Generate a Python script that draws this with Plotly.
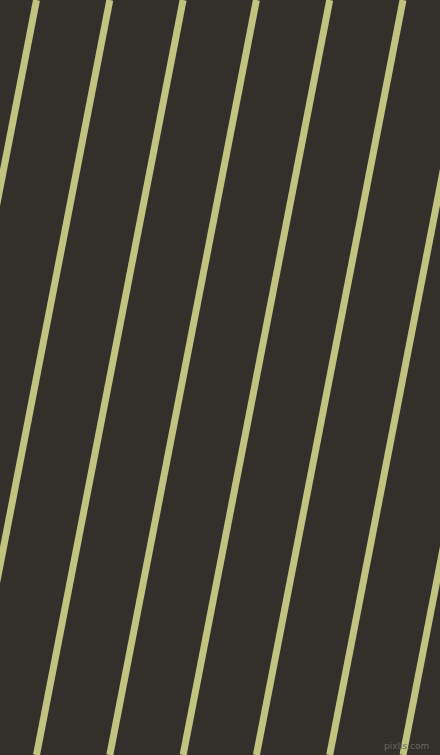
import plotly.graph_objects as go

# streeppatroon: x-positie van elke lijn bovenaan (y=0) en onderaan (y=755)
top_x = [36.5, 109.8, 183.1, 256.4, 329.7, 403.0, 476.3, 549.6, 622.9]
bottom_x = [-110.1, -36.8, 36.5, 109.8, 183.1, 256.4, 329.7, 403.0, 476.3]
y_top = 0
y_bottom = 755

bg_color = '#33302b'
line_color = '#c1c481'

fig = go.Figure()

# Teken elke diagonale lijn
for xt, xb in zip(top_x, bottom_x):
    fig.add_trace(go.Scatter(x=[xt, xb], y=[y_top, y_bottom],
                             mode='lines',
                             line=dict(color=line_color, width=7),
                             hoverinfo='skip',
                             showlegend=False))

# Watermerk rechtsonder
fig.add_annotation(x=1, y=0, xref='paper', yref='paper',
                   xanchor='right', yanchor='bottom',
                   xshift=-9, yshift=2,
                   text='pixlis.com', showarrow=False,
                   font=dict(family='DejaVu Sans', size=9, color='#6a675e'))

fig.update_layout(
    width=440,
    height=755,
    margin={"l": 0, "r": 0, "t": 0, "b": 0},
    paper_bgcolor=bg_color,
    plot_bgcolor=bg_color,
    xaxis=dict(range=[0, 440], visible=False, fixedrange=True),
    yaxis=dict(range=[755, 0], visible=False, fixedrange=True),
)

# Geen witte rand van de pagina zelf
fig.write_html("out.html", config={'displayModeBar': False},
               post_script="document.body.style.margin='0';document.body.style.background='%s';" % bg_color)
